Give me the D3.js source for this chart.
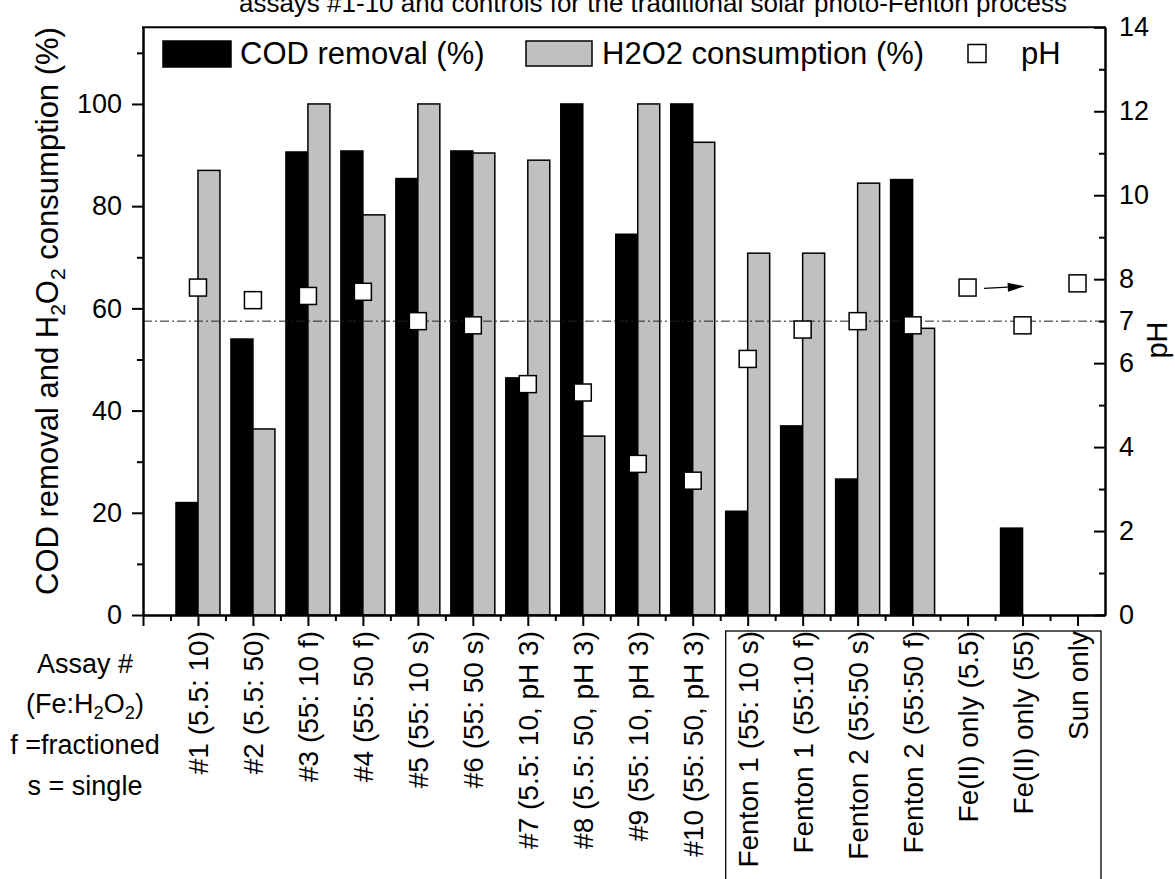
<!DOCTYPE html>
<html>
<head>
<meta charset="utf-8">
<script src="https://cdn.jsdelivr.net/npm/d3@7"></script>
<style>
  html, body { margin: 0; padding: 0; background: #fff; }
  svg { display: block; font-family: "Liberation Sans", Arial, sans-serif; }
</style>
</head>
<body>
<svg id="chart" width="1175" height="879"></svg>
<script>
// Assay labels (Fe:H2O2 ratio and dosing mode)
const categories = [
  "#1 (5.5: 10)", "#2 (5.5: 50)", "#3 (55: 10 f)", "#4 (55: 50 f)",
  "#5 (55: 10 s)", "#6 (55: 50 s)", "#7 (5.5: 10, pH 3)", "#8 (5.5: 50, pH 3)",
  "#9 (55: 10, pH 3)", "#10 (55: 50, pH 3)", "Fenton 1 (55: 10 s)", "Fenton 1 (55:10 f)",
  "Fenton 2 (55:50 s)", "Fenton 2 (55:50 f)", "Fe(II) only (5.5)", "Fe(II) only (55)", "Sun only"
];
// COD removal (%)
const codRemoval = [22.0, 54.0, 90.6, 90.8, 85.4, 90.8, 46.4, 100, 74.5, 100, 20.3, 37.0, 26.6, 85.2, 0, 17.0, 0];
// H2O2 consumption (%)
const h2o2Consumption = [87.0, 36.4, 100, 78.3, 100, 90.4, 89.0, 35.0, 100, 92.5, 70.8, 70.8, 84.5, 56.1, 0, 0, 0];
// Final pH
const finalPH = [7.8, 7.5, 7.6, 7.7, 7.0, 6.9, 5.5, 5.3, 3.6, 3.2, 6.1, 6.8, 7.0, 6.9, 7.8, 6.9, 7.9];

// Axis ticks
const leftMajorTicks = [0, 20, 40, 60, 80, 100];
const leftMinorTicks = [10, 30, 50, 70, 90, 110];
const rightMajorTicks = [0, 2, 4, 6, 8, 10, 12, 14];
const rightMinorTicks = [1, 3, 5, 7, 9, 11, 13];
const rightExtraLabels = [7];
const referencePH = 7;

// Annotation arrow: pH change for the Fe(II)-only (5.5) control, in category / pH units
const arrowFrom = { x: 15.3, ph: 7.78 };
const arrowTo = { x: 16.04, ph: 7.83 };

const titleText = "assays #1-10 and controls for the traditional solar photo-Fenton process";
const noteLines = ["Assay #", "(Fe:H2O2)", "f =fractioned", "s = single"];

const svg = d3.select("#chart");
const plotLeft = 143, plotRight = 1105, plotTop = 27.3, plotBottom = 615;

const x = d3.scaleLinear().domain([0, 17.5]).range([plotLeft, plotRight]);
const yL = d3.scaleLinear().domain([0, 115]).range([plotBottom, plotTop]);
const yR = d3.scaleLinear().domain([0, 14]).range([plotBottom, plotTop]);
const barW = x(0.4) - x(0);
const GRAY = "#c0c0c0";

// Title (partly above the page)
svg.append("text")
  .attr("x", 653).attr("y", 12)
  .attr("text-anchor", "middle")
  .attr("font-size", 26)
  .text(titleText);

// Bars
const g = svg.append("g");
const idx = d3.range(categories.length);
g.selectAll("rect.cod").data(idx.filter(i => codRemoval[i] > 0)).join("rect")
  .attr("class", "cod")
  .attr("x", i => x(i + 1) - barW)
  .attr("y", i => yL(codRemoval[i]))
  .attr("width", barW)
  .attr("height", i => yL(0) - yL(codRemoval[i]))
  .attr("fill", "#000").attr("stroke", "#000").attr("stroke-width", 1.5);
g.selectAll("rect.h2o2").data(idx.filter(i => h2o2Consumption[i] > 0)).join("rect")
  .attr("class", "h2o2")
  .attr("x", i => x(i + 1))
  .attr("y", i => yL(h2o2Consumption[i]))
  .attr("width", barW)
  .attr("height", i => yL(0) - yL(h2o2Consumption[i]))
  .attr("fill", GRAY).attr("stroke", "#000").attr("stroke-width", 1.5);

// Reference line at pH 7
svg.append("line")
  .attr("x1", plotLeft).attr("x2", plotRight)
  .attr("y1", yR(referencePH)).attr("y2", yR(referencePH))
  .attr("stroke", "#222").attr("stroke-width", 1)
  .attr("stroke-dasharray", "9,3,2,3");

// pH markers
const sq = 17;
svg.append("g").selectAll("rect").data(idx).join("rect")
  .attr("x", i => x(i + 1) - sq / 2)
  .attr("y", i => yR(finalPH[i]) - sq / 2)
  .attr("width", sq).attr("height", sq)
  .attr("fill", "#fff").attr("stroke", "#000").attr("stroke-width", 1.5);

// Arrow annotation
const ax1 = x(arrowFrom.x), ay1 = yR(arrowFrom.ph), ax2 = x(arrowTo.x), ay2 = yR(arrowTo.ph);
const ang = Math.atan2(ay2 - ay1, ax2 - ax1);
const headL = 17, headH = 4.5;
const bx = ax2 - headL * Math.cos(ang), by = ay2 - headL * Math.sin(ang);
svg.append("line").attr("x1", ax1).attr("y1", ay1).attr("x2", bx).attr("y2", by)
  .attr("stroke", "#000").attr("stroke-width", 1.2);
svg.append("path")
  .attr("d", `M${ax2},${ay2} L${bx - headH * Math.sin(ang)},${by + headH * Math.cos(ang)} L${bx + headH * Math.sin(ang)},${by - headH * Math.cos(ang)} Z`)
  .attr("fill", "#000");

// Axes
const TICK_FONT = 27;
const XLABEL_FONT = 28;
function styleAxis(sel, size) {
  sel.select(".domain").attr("stroke", "#000").attr("stroke-width", 2);
  sel.selectAll(".tick line").attr("stroke", "#000").attr("stroke-width", 2);
  sel.selectAll(".tick text").attr("fill", "#000").attr("font-size", size || TICK_FONT)
    .attr("font-family", "Liberation Sans, Arial, sans-serif");
}

// left
const axL = svg.append("g").attr("transform", `translate(${plotLeft},0)`)
  .call(d3.axisLeft(yL).tickValues(leftMajorTicks).tickSize(11).tickSizeOuter(0).tickPadding(10));
styleAxis(axL);
const axLm = svg.append("g").attr("transform", `translate(${plotLeft},0)`)
  .call(d3.axisLeft(yL).tickValues(leftMinorTicks).tickSize(6).tickSizeOuter(0).tickFormat(""));
styleAxis(axLm);

// right (ticks inward)
const axR = svg.append("g").attr("transform", `translate(${plotRight},0)`)
  .call(d3.axisRight(yR).tickValues(rightMajorTicks).tickSize(-11).tickSizeOuter(0).tickPadding(14));
styleAxis(axR);
const axRm = svg.append("g").attr("transform", `translate(${plotRight},0)`)
  .call(d3.axisRight(yR).tickValues(rightMinorTicks).tickSize(-6).tickSizeOuter(0).tickFormat(""));
styleAxis(axRm);
svg.append("g").selectAll("text").data(rightExtraLabels).join("text")
  .attr("x", plotRight + 14).attr("y", d => yR(d)).attr("dy", "0.32em")
  .attr("font-size", TICK_FONT).text(d => d);

// bottom
const axB = svg.append("g").attr("transform", `translate(0,${plotBottom})`)
  .call(d3.axisBottom(x).tickValues(d3.range(0, 18)).tickSize(11).tickSizeOuter(0)
    .tickFormat(i => categories[i - 1] || ""));
styleAxis(axB, XLABEL_FONT);
axB.selectAll(".tick text")
  .attr("transform", "rotate(-90)")
  .attr("text-anchor", "end")
  .attr("x", -16).attr("y", 0).attr("dy", "0.35em");
const axBm = svg.append("g").attr("transform", `translate(0,${plotBottom})`)
  .call(d3.axisBottom(x).tickValues(d3.range(0.5, 17, 1)).tickSize(6).tickSizeOuter(0).tickFormat(""));
styleAxis(axBm);

// top frame line
svg.append("line").attr("x1", plotLeft - 1).attr("x2", plotRight + 1).attr("y1", plotTop).attr("y2", plotTop)
  .attr("stroke", "#000").attr("stroke-width", 2);

// Box around control labels
svg.append("rect")
  .attr("x", x(10.6)).attr("y", 631)
  .attr("width", plotRight - 4 - x(10.6)).attr("height", 300)
  .attr("fill", "none").attr("stroke", "#000").attr("stroke-width", 1.3);

// Axis titles
const TITLE_FONT = 31;
const lt = svg.append("text")
  .attr("transform", `translate(58,311) rotate(-90)`)
  .attr("text-anchor", "middle")
  .attr("font-size", TITLE_FONT);
lt.append("tspan").text("COD removal and H");
lt.append("tspan").attr("font-size", TITLE_FONT * 0.68).attr("dy", 7).text("2");
lt.append("tspan").attr("dy", -7).text("O");
lt.append("tspan").attr("font-size", TITLE_FONT * 0.68).attr("dy", 7).text("2");
lt.append("tspan").attr("dy", -7).text(" consumption (%)");

svg.append("text")
  .attr("transform", `translate(1167,340) rotate(-90)`)
  .attr("text-anchor", "middle")
  .attr("font-size", 29)
  .text("pH");

// Legend
const LEGEND_FONT = 31;
const legY = 41, legH = 26;
svg.append("rect").attr("x", 163).attr("y", legY).attr("width", 68).attr("height", legH)
  .attr("fill", "#000").attr("stroke", "#000").attr("stroke-width", 1.5);
svg.append("text").attr("x", 240).attr("y", 64).attr("font-size", LEGEND_FONT).text("COD removal (%)");
svg.append("rect").attr("x", 526).attr("y", legY).attr("width", 66).attr("height", legH - 1)
  .attr("fill", GRAY).attr("stroke", "#000").attr("stroke-width", 1.5);
svg.append("text").attr("x", 602).attr("y", 64).attr("font-size", LEGEND_FONT).text("H2O2 consumption (%)");
svg.append("rect").attr("x", 968).attr("y", 44.5).attr("width", 18).attr("height", 18)
  .attr("fill", "#fff").attr("stroke", "#000").attr("stroke-width", 1.5);
svg.append("text").attr("x", 1021).attr("y", 64).attr("font-size", LEGEND_FONT).text("pH");

// Notes beside the category labels
const NOTE_FONT = 27;
const noteY = [664, 704, 745, 786];
noteLines.forEach((line, k) => {
  const t = svg.append("text").attr("x", 85).attr("y", noteY[k]).attr("dy", "0.35em")
    .attr("text-anchor", "middle").attr("font-size", NOTE_FONT);
  if (line.includes("H2O2")) {
    t.append("tspan").text("(Fe:H");
    t.append("tspan").attr("font-size", NOTE_FONT * 0.68).attr("dy", 6).text("2");
    t.append("tspan").attr("dy", -6).text("O");
    t.append("tspan").attr("font-size", NOTE_FONT * 0.68).attr("dy", 6).text("2");
    t.append("tspan").attr("dy", -6).text(")");
  } else {
    t.text(line);
  }
});
</script>
</body>
</html>
